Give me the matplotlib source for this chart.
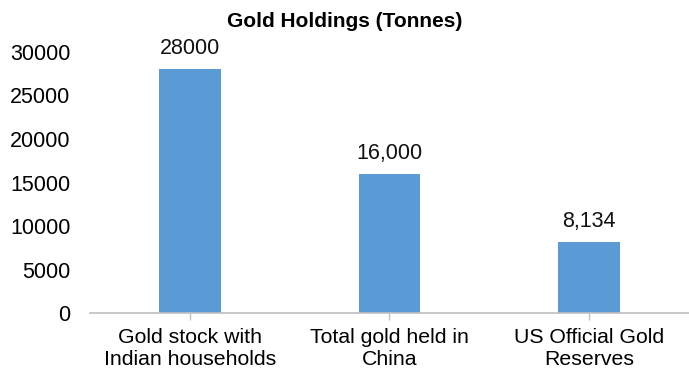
import matplotlib
matplotlib.use("Agg")
import matplotlib.pyplot as plt

plt.rcParams['font.family'] = ['Liberation Sans', 'DejaVu Sans']

categories = ['Gold stock with\nIndian households', 'Total gold held in\nChina', 'US Official Gold\nReserves']
holdings = [28000, 16000, 8134]
value_labels = ['28000', '16,000', '8,134']
yticks = [0, 5000, 10000, 15000, 20000, 25000, 30000]

fig = plt.figure(figsize=(6.89, 3.74), dpi=100)
ax = fig.add_axes([0.1306, 0.163, 0.8694, 0.698])

x = range(len(categories))
bars = ax.bar(x, holdings, width=0.31, color='#5B9BD5', zorder=2)
for b, lab in zip(bars, value_labels):
    ax.text(b.get_x() + b.get_width() / 2, b.get_height() + 1150, lab,
            ha='center', va='bottom', fontsize=15.5, color='#111111', clip_on=False)

ax.set_xlim(-0.5, 2.5)
ax.set_ylim(0, 30000)
ax.set_yticks(yticks)
ax.set_yticklabels([str(v) for v in yticks], fontsize=15.5)
ax.set_xticks(list(x))
ax.set_xticklabels(categories, fontsize=15.3, linespacing=1.2)

for s in ['top', 'right', 'left']:
    ax.spines[s].set_visible(False)
ax.spines['bottom'].set_color('#BFBFBF')
ax.spines['bottom'].set_linewidth(1.2)
ax.tick_params(axis='y', length=0, pad=14)
ax.tick_params(axis='x', length=5, color='#BFBFBF', width=1, pad=6)

fig.text(0.5, 0.943, 'Gold Holdings (Tonnes)', ha='center', va='center',
         fontsize=15, fontweight='bold')

fig.savefig('out.png', dpi=100)
